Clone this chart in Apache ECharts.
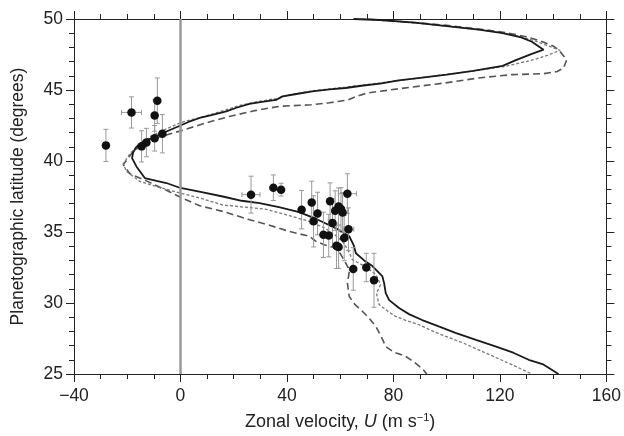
<!DOCTYPE html>
<html>
<head>
<meta charset="utf-8">
<script src="https://cdn.jsdelivr.net/npm/echarts@6/dist/echarts.min.js"></script>
<style>
html,body{margin:0;padding:0;background:#fff;}
#chart{width:624px;height:436px;}
</style>
</head>
<body>
<div id="chart"></div>
<script>
// Model profiles: [U (m/s), latitude (deg)]
const solidProfile = [[65,50],[75,49.93],[88,49.75],[100,49.5],[112,49.25],[121,49.0],[128,48.7],[132,48.4],[136.4,47.84],[132,47.55],[126,47.1],[121,46.7],[110,46.35],[100,46.08],[90,45.85],[82,45.68],[75,45.45],[68,45.3],[62,45.14],[56,45.05],[49.5,44.9],[43,44.7],[38.3,44.55],[35.9,44.3],[30,44.15],[25.9,44.03],[21,43.75],[17.2,43.5],[12,43.25],[7.2,43.03],[3,42.75],[0,42.5],[-6.6,41.97],[-11,41.6],[-14,41.38],[-16.5,41.0],[-17.8,40.6],[-18.2,40.2],[-16.5,39.6],[-13.4,38.8],[-9,38.6],[-5.3,38.45],[0,38.1],[8,37.8],[15.9,37.5],[23,37.2],[29.7,37.04],[37,36.75],[44.6,36.4],[50,36.0],[54.6,35.6],[59,35.2],[63.4,34.7],[65,34.1],[65.9,33.5],[69,33.0],[72.1,32.6],[75.8,31.9],[76.5,31.4],[77.1,30.7],[78.4,30.2],[82.1,29.65],[86,29.2],[90.8,28.8],[97,28.35],[103.3,27.9],[111,27.4],[118.3,26.94],[125,26.5],[130.8,26.0],[136,25.7],[139,25.35],[142,25.0]];
const dottedProfile = [[68,50],[80,49.85],[92,49.65],[100,49.5],[110,49.3],[120,49.05],[128,48.75],[134,48.4],[139,48.05],[142.6,47.8],[138,47.45],[133,47.15],[122,46.66],[110,46.35],[100,46.1],[88,45.8],[75,45.5],[62,45.2],[50,44.95],[42,44.7],[36,44.4],[28,44.15],[22,43.9],[17,43.6],[10,43.2],[5,42.95],[0,42.7],[-6,42.2],[-11,41.75],[-14.5,41.3],[-16.5,41.0],[-19,40.5],[-21.5,39.8],[-20.3,39.27],[-15.3,38.56],[-8,38.15],[-0.3,37.75],[7.2,37.4],[15.9,36.9],[24,36.75],[32.2,36.6],[40.9,36.15],[48.4,35.75],[54,35.3],[58,34.8],[61,34.3],[63,33.7],[64.6,33.05],[70,32.5],[73.4,32.0],[75.2,31.3],[73.6,30.7],[74.6,29.9],[78,29.4],[80.8,29.06],[85,28.75],[89.6,28.47],[95,28.0],[99.6,27.65],[106,27.2],[112,26.7],[118,26.2],[124.5,25.66],[128,25.35],[132,25.0]];
const dashedProfile = [[70,50],[80,49.85],[90,49.72],[100,49.55],[112,49.3],[122,49.05],[130,48.75],[136,48.4],[140,48.1],[142,47.84],[145.1,47.13],[143.9,46.55],[141.5,46.3],[136.5,46.15],[124.5,46.08],[112,45.85],[99.6,45.5],[86.6,45.2],[74.6,44.9],[70.4,44.8],[66,44.55],[62.9,44.3],[56,44.1],[49.1,43.96],[37.2,43.85],[28,43.55],[18.4,43.14],[9,42.65],[0,42.12],[-6,41.8],[-11.5,41.5],[-15.3,41.03],[-18.5,40.5],[-21.5,39.74],[-19,39.1],[-12.8,38.6],[-6,38.0],[0,37.45],[7.2,36.85],[15.9,36.45],[25.9,35.87],[33,35.5],[40.9,35.04],[48.4,34.7],[50.9,34.34],[54,34.1],[57.1,33.95],[60,33.5],[62.1,32.8],[63.5,32.3],[62.7,31.4],[63.4,30.46],[65.5,29.9],[68.4,29.4],[71,28.9],[73.4,28.35],[75.5,27.6],[77.1,26.94],[80,26.55],[84.6,26.24],[88,25.8],[91,25.35],[92.5,25.0]];

// Observations
const obsU      = [-28, -18.4, -9.7, -8.7, -9.7, -14.6, -12.8, -6.8, 26.5, 34.9, 37.8, 45.5, 49.3, 50.0, 51.5, 53.7, 55.7, 56.2, 57.1, 58.1, 59.4, 60.3, 60.9, 62.7, 63.1, 61.5, 58.6, 59.4, 64.9, 69.8, 72.7];
const obsLat    = [41.1, 43.42, 43.2, 44.25, 41.6, 41.03, 41.3, 41.92, 37.63, 38.12, 37.98, 36.57, 37.08, 35.75, 36.3, 34.8, 34.75, 37.16, 35.63, 36.5, 36.8, 36.62, 36.38, 37.7, 35.2, 34.58, 34.03, 33.94, 32.4, 32.5, 31.6];
const obsUErr   = [0, 3.75, 0, 0, 0, 0, 0, 0, 3.4, 0, 0, 0, 0, 0, 0, 0, 0, 0, 0, 0, 0, 0, 0, 3.4, 2, 0, 0, 0, 0, 0, 0];
const obsLatErr = [1.13, 1.1, 1.1, 1.6, 0.9, 1.1, 1.0, 1.35, 1.3, 0.9, 0.45, 1.35, 1.5, 1.8, 1.5, 1.6, 1.5, 1.3, 1.7, 1.4, 1.3, 1.5, 1.4, 1.4, 1.5, 1.6, 1.6, 1.5, 1.5, 1.0, 1.9];

const xTicks = {min: -40, max: 160, interval: 40};
const yTicks = {min: 25, max: 50, interval: 5};

const FONT = 'Liberation Sans, Arial, sans-serif';
const chart = echarts.init(document.getElementById('chart'), null, {renderer: 'canvas'});

const obsPoints = obsU.map((u, i) => [u, obsLat[i]]);
const errData = obsU.map((u, i) => [u, obsLat[i], obsUErr[i], obsLatErr[i]]);

const fmtMinus = v => (v < 0 ? '\u2212' + Math.abs(v) : String(v));

const axisCommonX = {
  type: 'value', min: xTicks.min, max: xTicks.max, interval: xTicks.interval,
  axisLine: {show: true, onZero: false, lineStyle: {color: '#222', width: 1}},
  axisTick: {show: true, inside: false, length: 8, lineStyle: {color: '#222', width: 1}},
  minorTick: {show: true, splitNumber: 4, length: 5, lineStyle: {color: '#222', width: 1}},
  splitLine: {show: false}
};
const axisCommonY = {
  type: 'value', min: yTicks.min, max: yTicks.max, interval: yTicks.interval,
  axisLine: {show: true, onZero: false, lineStyle: {color: '#222', width: 1}},
  axisTick: {show: true, inside: false, length: 8, lineStyle: {color: '#222', width: 1}},
  minorTick: {show: true, splitNumber: 5, length: 5, lineStyle: {color: '#222', width: 1}},
  splitLine: {show: false}
};

chart.setOption({
  animation: false,
  backgroundColor: '#fff',
  grid: {left: 74, right: 16, top: 19, bottom: 61, containLabel: false},
  xAxis: [
    Object.assign({}, axisCommonX, {
      position: 'bottom',
      axisLabel: {show: true, margin: 13, color: '#222', fontSize: 17.5, fontFamily: FONT, formatter: fmtMinus},
      name: 'Zonal velocity, {i|U} (m s{sup|\u22121})',
      nameLocation: 'middle', nameGap: 38,
      nameTextStyle: {
        color: '#222', fontSize: 18, fontFamily: FONT,
        rich: {
          i: {fontStyle: 'italic', fontSize: 18, fontFamily: FONT, color: '#222'},
          sup: {fontSize: 11, fontFamily: FONT, color: '#222', padding: [0, 0, 9, 0]}
        }
      }
    }),
    Object.assign({}, axisCommonX, {position: 'top', axisLabel: {show: false}})
  ],
  yAxis: [
    Object.assign({}, axisCommonY, {
      position: 'left',
      axisLabel: {show: true, margin: 11, color: '#222', fontSize: 17.5, fontFamily: FONT},
      name: 'Planetographic latitude (degrees)',
      nameLocation: 'middle', nameGap: 47,
      nameTextStyle: {color: '#222', fontSize: 17.5, fontFamily: FONT}
    }),
    Object.assign({}, axisCommonY, {position: 'right', axisLabel: {show: false}})
  ],
  series: [
    {
      type: 'line', data: [], xAxisIndex: 0, yAxisIndex: 0, silent: true,
      markLine: {
        silent: true, symbol: ['none', 'none'], label: {show: false},
        lineStyle: {color: '#999', width: 2.5, type: 'solid', opacity: 1},
        data: [{xAxis: 0}]
      }
    },
    {
      type: 'line', data: dashedProfile, showSymbol: false, smooth: false,
      lineStyle: {color: '#555', width: 1.6, type: [7, 4]}, z: 3
    },
    {
      type: 'line', data: dottedProfile, showSymbol: false, smooth: false,
      lineStyle: {color: '#777', width: 1.3, type: [3, 2]}, z: 3
    },
    {
      type: 'line', data: solidProfile, showSymbol: false, smooth: false,
      lineStyle: {color: '#1a1a1a', width: 1.8, type: 'solid'}, z: 4
    },
    {
      type: 'custom', data: errData, z: 5, silent: true,
      renderItem: function (params, api) {
        const u = api.value(0), lat = api.value(1), ue = api.value(2), le = api.value(3);
        const children = [];
        const st = {stroke: '#999', lineWidth: 1};
        const cap = 2.5;
        const top = api.coord([u, lat + le]);
        const bot = api.coord([u, lat - le]);
        children.push({type: 'line', shape: {x1: top[0], y1: top[1], x2: bot[0], y2: bot[1]}, style: st});
        children.push({type: 'line', shape: {x1: top[0] - cap, y1: top[1], x2: top[0] + cap, y2: top[1]}, style: st});
        children.push({type: 'line', shape: {x1: bot[0] - cap, y1: bot[1], x2: bot[0] + cap, y2: bot[1]}, style: st});
        if (ue > 0) {
          const l = api.coord([u - ue, lat]);
          const r = api.coord([u + ue, lat]);
          children.push({type: 'line', shape: {x1: l[0], y1: l[1], x2: r[0], y2: r[1]}, style: st});
          children.push({type: 'line', shape: {x1: l[0], y1: l[1] - cap, x2: l[0], y2: l[1] + cap}, style: st});
          children.push({type: 'line', shape: {x1: r[0], y1: r[1] - cap, x2: r[0], y2: r[1] + cap}, style: st});
        }
        return {type: 'group', children: children};
      }
    },
    {
      type: 'scatter', data: obsPoints, symbol: 'circle', symbolSize: 8.5,
      itemStyle: {color: '#111', opacity: 1}, z: 6
    }
  ]
});
</script>
</body>
</html>
